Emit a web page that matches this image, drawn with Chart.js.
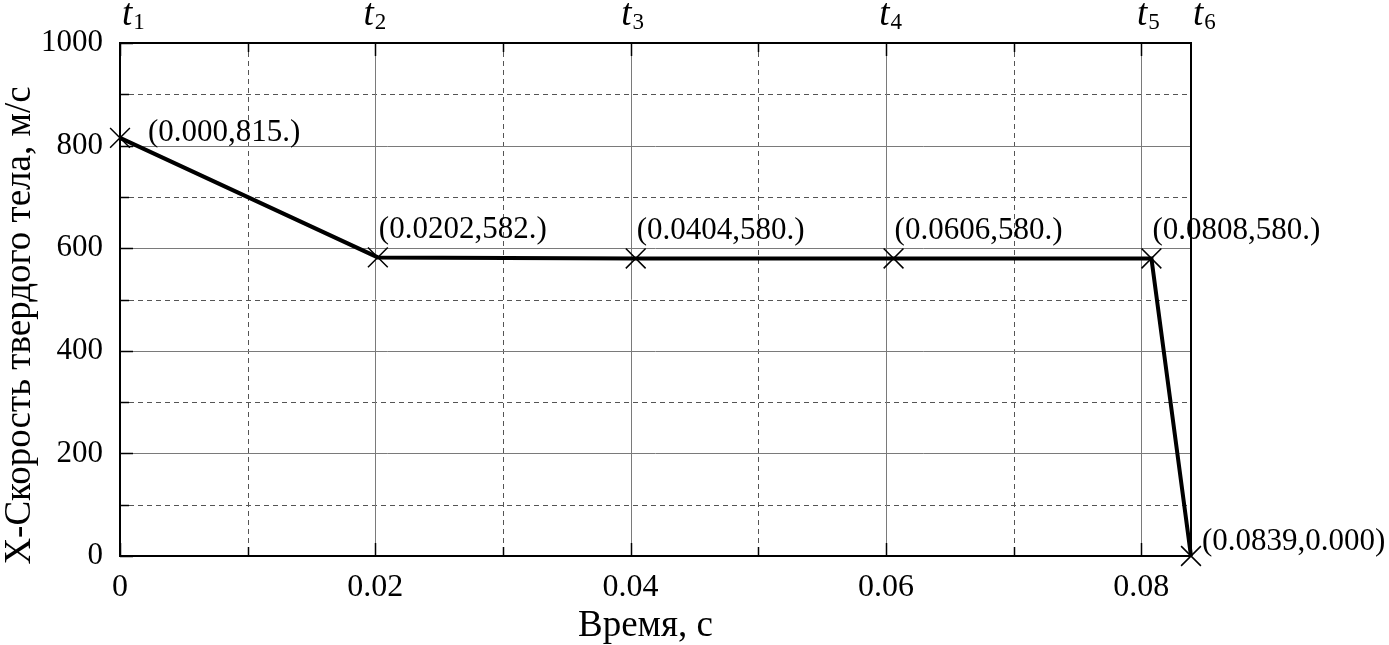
<!DOCTYPE html>
<html>
<head>
<meta charset="utf-8">
<script src="https://cdn.jsdelivr.net/npm/chart.js@4"></script>
<style>
    html, body { margin: 0; padding: 0; background: #fff; }
    #wrap { width: 1389px; height: 645px; position: relative; }
</style>
</head>
<body>
<div id="wrap"><canvas id="mainChart" width="1389" height="645"></canvas></div>
<script>
// Chart data
const timeValues = [0, 0.0202, 0.0404, 0.0606, 0.0808, 0.0839];
const velocityValues = [815, 582, 580, 580, 580, 0];
const pointLabels = ['(0.000,815.)', '(0.0202,582.)', '(0.0404,580.)', '(0.0606,580.)', '(0.0808,580.)', '(0.0839,0.000)'];
const timeMarkers = ['1', '2', '3', '4', '5', '6'];

// Tick values
const xTickValues = [0, 0.02, 0.04, 0.06, 0.08];
const xTickLabels = ['0', '0.02', '0.04', '0.06', '0.08'];
const xMinorValues = [0.01, 0.03, 0.05, 0.07];
const yTickValues = [0, 200, 400, 600, 800, 1000];
const yTickLabels = ['0', '200', '400', '600', '800', '1000'];
const yMinorValues = [100, 300, 500, 700, 900];

const yTitle = 'X-Скорость твердого тела, м/с';
const xTitle = 'Время, с';

const FONT = '"Liberation Serif", "Times New Roman", serif';

// Grid, ticks, frame and text labels
const decorPlugin = {
    id: 'decor',
    beforeDatasetsDraw(chart) {
        const ctx = chart.ctx;
        const area = chart.chartArea;
        const xs = chart.scales.x;
        const ys = chart.scales.y;
        ctx.save();

        // dashed minor grid
        ctx.lineWidth = 1;
        ctx.strokeStyle = '#555';
        ctx.setLineDash([5, 4]);
        xMinorValues.forEach(v => {
            const x = Math.round(xs.getPixelForValue(v)) + 0.5;
            ctx.beginPath(); ctx.moveTo(x, area.top); ctx.lineTo(x, area.bottom); ctx.stroke();
        });
        yMinorValues.forEach(v => {
            const y = Math.round(ys.getPixelForValue(v)) + 0.5;
            ctx.beginPath(); ctx.moveTo(area.left, y); ctx.lineTo(area.right, y); ctx.stroke();
        });

        // solid major grid
        ctx.setLineDash([]);
        ctx.strokeStyle = '#7a7a7a';
        xTickValues.forEach(v => {
            const x = Math.round(xs.getPixelForValue(v)) + 0.5;
            ctx.beginPath(); ctx.moveTo(x, area.top); ctx.lineTo(x, area.bottom); ctx.stroke();
        });
        yTickValues.forEach(v => {
            const y = Math.round(ys.getPixelForValue(v)) + 0.5;
            ctx.beginPath(); ctx.moveTo(area.left, y); ctx.lineTo(area.right, y); ctx.stroke();
        });

        // inward tick marks
        ctx.strokeStyle = '#000';
        ctx.lineWidth = 1.5;
        const tickX = (v, len) => {
            const x = Math.round(xs.getPixelForValue(v)) + 0.5;
            ctx.beginPath(); ctx.moveTo(x, area.bottom); ctx.lineTo(x, area.bottom - len); ctx.stroke();
            ctx.beginPath(); ctx.moveTo(x, area.top); ctx.lineTo(x, area.top + len); ctx.stroke();
        };
        const tickY = (v, len) => {
            const y = Math.round(ys.getPixelForValue(v)) + 0.5;
            ctx.beginPath(); ctx.moveTo(area.left, y); ctx.lineTo(area.left + len, y); ctx.stroke();
        };
        xTickValues.forEach(v => tickX(v, 13));
        xMinorValues.forEach(v => tickX(v, 9));
        yTickValues.forEach(v => tickY(v, 13));
        yMinorValues.forEach(v => tickY(v, 9));

        // frame
        ctx.lineWidth = 2;
        ctx.strokeRect(area.left, area.top, area.right - area.left, area.bottom - area.top);
        ctx.restore();
    },
    afterDatasetsDraw(chart) {
        const ctx = chart.ctx;
        const area = chart.chartArea;
        const xs = chart.scales.x;
        const ys = chart.scales.y;
        const last = timeValues.length - 1;
        ctx.save();
        ctx.fillStyle = '#000';

        // point coordinate labels
        ctx.font = '31px ' + FONT;
        ctx.textAlign = 'left';
        ctx.textBaseline = 'alphabetic';
        pointLabels.forEach((text, i) => {
            const px = xs.getPixelForValue(timeValues[i]);
            const py = ys.getPixelForValue(velocityValues[i]);
            if (i === 0) {
                ctx.fillText(text, px + 28, py + 3);
            } else if (i === last) {
                ctx.fillText(text, px + 11, py - 6);
            } else {
                ctx.fillText(text, px + 1, py - 19);
            }
        });

        // t_i markers above the plot
        timeMarkers.forEach((sub, i) => {
            const px = xs.getPixelForValue(timeValues[i]);
            ctx.font = 'italic 37px ' + FONT;
            const tw = ctx.measureText('t').width;
            ctx.font = '23px ' + FONT;
            const sw = ctx.measureText(sub).width;
            const total = tw + 1 + sw;
            const left = (i === 0 || i === last) ? px + 2 : px - total / 2 - 3;
            ctx.font = 'italic 37px ' + FONT;
            ctx.fillText('t', left, area.top - 18);
            ctx.font = '23px ' + FONT;
            ctx.fillText(sub, left + tw + 1, area.top - 14);
        });

        // x axis title
        ctx.font = '37px ' + FONT;
        ctx.textAlign = 'center';
        ctx.textBaseline = 'middle';
        ctx.fillText(xTitle, (area.left + area.right) / 2 - 10, area.bottom + 70);

        // y axis title
        ctx.translate(20, (area.top + area.bottom) / 2 + 26);
        ctx.rotate(-Math.PI / 2);
        ctx.fillText(yTitle, 0, 0);
        ctx.restore();
    }
};

let chart = null;

document.addEventListener('DOMContentLoaded', function () {
    const ctx = document.getElementById('mainChart');

    chart = new Chart(ctx, {
        type: 'scatter',
        data: {
            datasets: [{
                data: timeValues.map((t, i) => ({ x: t, y: velocityValues[i] })),
                showLine: true,
                borderColor: '#000',
                borderWidth: 4,
                pointStyle: 'crossRot',
                pointRadius: 14,
                pointBorderWidth: 1.5,
                pointBorderColor: '#000',
                pointBackgroundColor: '#000',
                clip: false
            }]
        },
        options: {
            responsive: false,
            animation: false,
            layout: { padding: { top: 43, right: 198, left: 0, bottom: 0 } },
            plugins: {
                legend: { display: false },
                tooltip: { enabled: false }
            },
            scales: {
                x: {
                    type: 'linear',
                    min: 0,
                    max: Math.max(...timeValues),
                    grid: { display: false, drawTicks: false },
                    border: { display: false },
                    afterBuildTicks: scale => { scale.ticks = xTickValues.map(v => ({ value: v })); },
                    afterFit: scale => { scale.height = 89; },
                    ticks: {
                        padding: 12,
                        maxRotation: 0,
                        color: '#000',
                        font: { family: FONT, size: 32 },
                        callback: (value, index) => xTickLabels[index]
                    },
                    title: { display: false }
                },
                y: {
                    type: 'linear',
                    min: 0,
                    max: 1000,
                    grid: { display: false, drawTicks: false },
                    border: { display: false },
                    afterBuildTicks: scale => { scale.ticks = yTickValues.map(v => ({ value: v })); },
                    afterFit: scale => { scale.width = 120; },
                    ticks: {
                        padding: 17,
                        color: '#000',
                        font: { family: FONT, size: 31 },
                        callback: (value, index) => yTickLabels[index]
                    },
                    title: { display: false }
                }
            }
        },
        plugins: [decorPlugin]
    });
});
</script>
</body>
</html>
